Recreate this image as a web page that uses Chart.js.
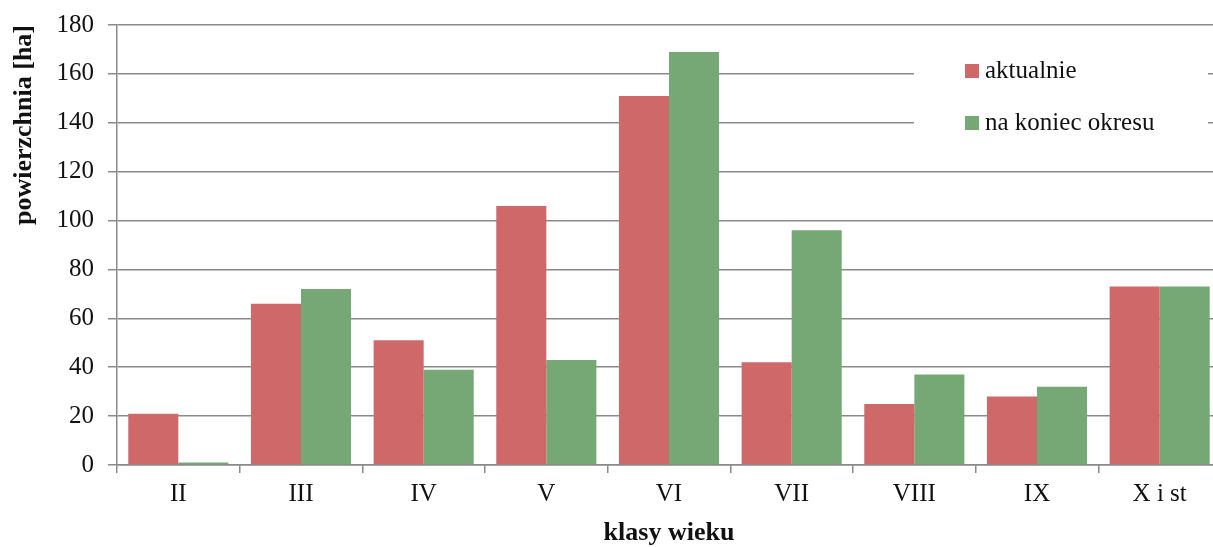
<!DOCTYPE html>
<html>
<head>
<meta charset="utf-8">
<script src="https://cdn.jsdelivr.net/npm/chart.js@4.4.0/dist/chart.umd.min.js"></script>
<style>
  html, body { margin: 0; padding: 0; background: #fff; overflow: hidden; }
</style>
</head>
<body>
<!-- canvas is a few px wider than the window: the plot runs off the right edge like the original -->
<canvas id="chart" width="1221" height="547"></canvas>
<script>
// ===== Data =====
const categories = ['II', 'III', 'IV', 'V', 'VI', 'VII', 'VIII', 'IX', 'X i st'];
const aktualnie = [21, 66, 51, 106, 151, 42, 25, 28, 73];
const naKoniecOkresu = [1, 72, 39, 43, 169, 96, 37, 32, 73];
const yMin = 0, yMax = 180, yStep = 20;

const RED = '#cf6868';
const GREEN = '#76a876';
const GRID = '#8a8a8a';
const FONT = "'Liberation Serif', 'Times New Roman', serif";

// legend drawn inside the plot, on a white box over the gridlines
const insideLegend = {
  id: 'insideLegend',
  afterDraw(chart) {
    const ctx = chart.ctx;
    ctx.save();
    ctx.fillStyle = '#fff';
    ctx.fillRect(914, 40, 294, 118);
    ctx.font = '25px ' + FONT;
    ctx.textBaseline = 'middle';
    ctx.textAlign = 'left';
    chart.data.datasets.forEach((ds, i) => {
      const y = 71 + i * 52;
      ctx.fillStyle = ds.backgroundColor;
      ctx.fillRect(965, y - 7, 14, 14);
      ctx.fillStyle = '#111';
      ctx.fillText(ds.label, 985, y);
    });
    ctx.restore();
  }
};

new Chart(document.getElementById('chart'), {
  type: 'bar',
  data: {
    labels: categories,
    datasets: [
      { label: 'aktualnie', data: aktualnie, backgroundColor: RED },
      { label: 'na koniec okresu', data: naKoniecOkresu, backgroundColor: GREEN }
    ]
  },
  options: {
    responsive: false,
    animation: false,
    devicePixelRatio: 1,
    layout: { padding: { top: 25, right: 0, left: 0, bottom: 0 } },
    datasets: { bar: { categoryPercentage: 0.816, barPercentage: 1.0 } },
    plugins: { legend: { display: false }, tooltip: { enabled: false } },
    scales: {
      x: {
        afterFit: s => { s.height = 82; },
        grid: { offset: true, drawOnChartArea: false, color: GRID, lineWidth: 1.5, tickLength: 8 },
        border: { color: GRID, width: 1.5 },
        ticks: { color: '#111', font: { family: FONT, size: 25 }, padding: 6 },
        title: {
          display: true, text: 'klasy wieku', color: '#111',
          font: { family: FONT, size: 26, weight: 'bold' },
          padding: { top: 0, bottom: -2 }
        }
      },
      y: {
        min: yMin, max: yMax,
        afterFit: s => { s.width = 117; s.paddingTop = 0; s.paddingBottom = 0; },
        grid: { color: GRID, lineWidth: 1.5, tickLength: 9 },
        border: { color: GRID, width: 1.5 },
        ticks: { stepSize: yStep, color: '#111', font: { family: FONT, size: 25 }, padding: 14 },
        title: {
          display: true, text: 'powierzchnia [ha]', color: '#111', align: 'end',
          font: { family: FONT, size: 26, weight: 'bold' },
          padding: { top: 9, bottom: 0 }
        }
      }
    }
  },
  plugins: [insideLegend]
});
</script>
</body>
</html>
